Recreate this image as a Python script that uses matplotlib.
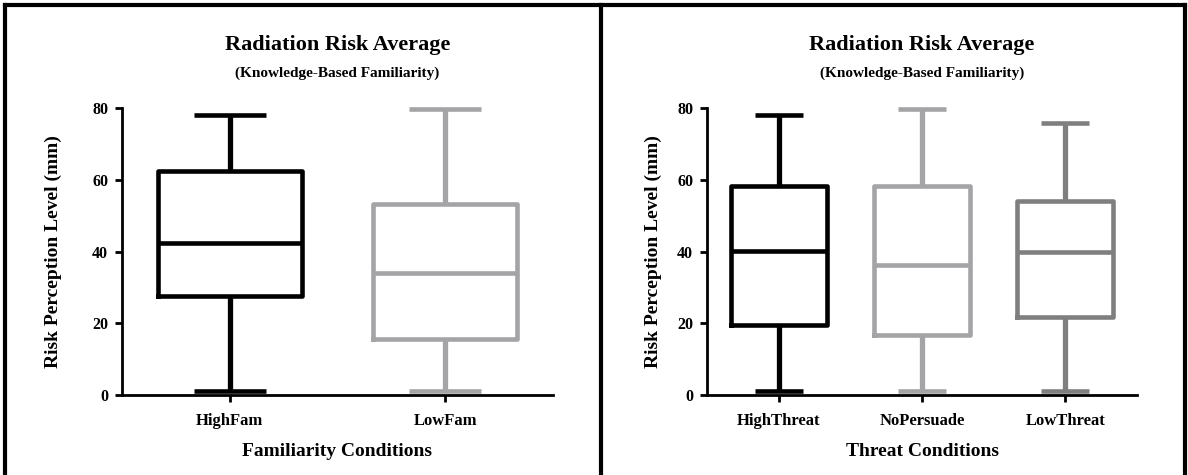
import matplotlib
matplotlib.use("Agg")
import matplotlib.pyplot as plt
from matplotlib.lines import Line2D

plt.rcParams['font.family'] = ['Liberation Serif', 'DejaVu Serif']
plt.rcParams['font.weight'] = 'bold'

# ---- data ----
fam_categories = ["HighFam", "LowFam"]
fam_whislo = [1.0, 1.0]
fam_q1 = [27.7, 15.5]
fam_med = [42.3, 34.0]
fam_q3 = [62.5, 53.2]
fam_whishi = [78.0, 79.8]
fam_colors = ["#000000", "#a4a4a7"]

thr_categories = ["HighThreat", "NoPersuade", "LowThreat"]
thr_whislo = [1.0, 1.0, 1.0]
thr_q1 = [19.5, 16.7, 21.8]
thr_med = [40.2, 36.3, 40.0]
thr_q3 = [58.3, 58.2, 54.1]
thr_whishi = [78.0, 79.8, 75.8]
thr_colors = ["#000000", "#a4a4a7", "#7f7f7f"]

yticks = [0, 20, 40, 60, 80]
title = "Radiation Risk Average"
subtitle = "(Knowledge-Based Familiarity)"
ylabel = "Risk Perception Level (mm)"
fam_xlabel = "Familiarity Conditions"
thr_xlabel = "Threat Conditions"

W, H = 1188, 475
fig = plt.figure(figsize=(W / 100, H / 100), dpi=100)

LW = 3.3


def panel(rect, cats, lo, q1, med, q3, hi, colors, xlabel, ylab_pad):
    ax = fig.add_axes(rect)
    n = len(cats)
    for i in range(n):
        st = [dict(med=med[i], q1=q1[i], q3=q3[i], whislo=lo[i], whishi=hi[i], fliers=[], label=cats[i])]
        c = colors[i]
        ax.bxp(st, positions=[i], widths=0.67, showfliers=False, capwidths=0.335,
               boxprops=dict(color=c, linewidth=LW),
               medianprops=dict(color=c, linewidth=LW, solid_capstyle='butt'),
               whiskerprops=dict(color=c, linewidth=LW + 0.5, solid_capstyle='butt'),
               capprops=dict(color=c, linewidth=LW, solid_capstyle='butt'),
               manage_ticks=False)
    for art in ax.lines:
        art.set_clip_on(False)
    ax.set_xlim(-0.5, n - 0.5)
    ax.set_ylim(0, 80)
    ax.set_xticks(range(n))
    ax.set_xticklabels(cats, fontsize=12, fontweight='bold')
    ax.set_yticks(yticks)
    ax.set_yticklabels([str(v) for v in yticks], fontsize=11.5, fontweight='bold')
    for s in ['top', 'right']:
        ax.spines[s].set_visible(False)
    for s in ['left', 'bottom']:
        ax.spines[s].set_linewidth(2.0)
    ax.tick_params(axis='both', length=5, width=2.0, direction='out')
    ax.tick_params(axis='x', pad=8)
    ax.tick_params(axis='y', pad=5)
    ax.set_xlabel(xlabel, fontsize=14, fontweight='bold', labelpad=10)
    ax.set_ylabel(ylabel, fontsize=14, fontweight='bold', labelpad=ylab_pad)
    ax.text(0.5, 1.22, title, transform=ax.transAxes, ha='center', va='center',
            fontsize=16, fontweight='bold')
    ax.text(0.5, 1.122, subtitle, transform=ax.transAxes, ha='center', va='center',
            fontsize=11, fontweight='bold')
    return ax


ax1 = panel([122 / W, 1 - 395 / H, 431 / W, 287 / H], fam_categories, fam_whislo, fam_q1,
            fam_med, fam_q3, fam_whishi, fam_colors, fam_xlabel, 22)
ax2 = panel([707 / W, 1 - 395 / H, 430 / W, 287 / H], thr_categories, thr_whislo, thr_q1,
            thr_med, thr_q3, thr_whishi, thr_colors, thr_xlabel, 11)

# panel frames
blw = 3.0
for (x0, y0, x1, y1) in [(5, 5, 5, H), (5, 5, W - 3, 5), (W - 3, 5, W - 3, H), (601, 5, 601, H)]:
    fig.add_artist(Line2D([x0 / W, x1 / W], [1 - y0 / H, 1 - y1 / H], color='black',
                          linewidth=blw, transform=fig.transFigure, solid_capstyle='projecting'))

fig.savefig("out.png", dpi=100)
